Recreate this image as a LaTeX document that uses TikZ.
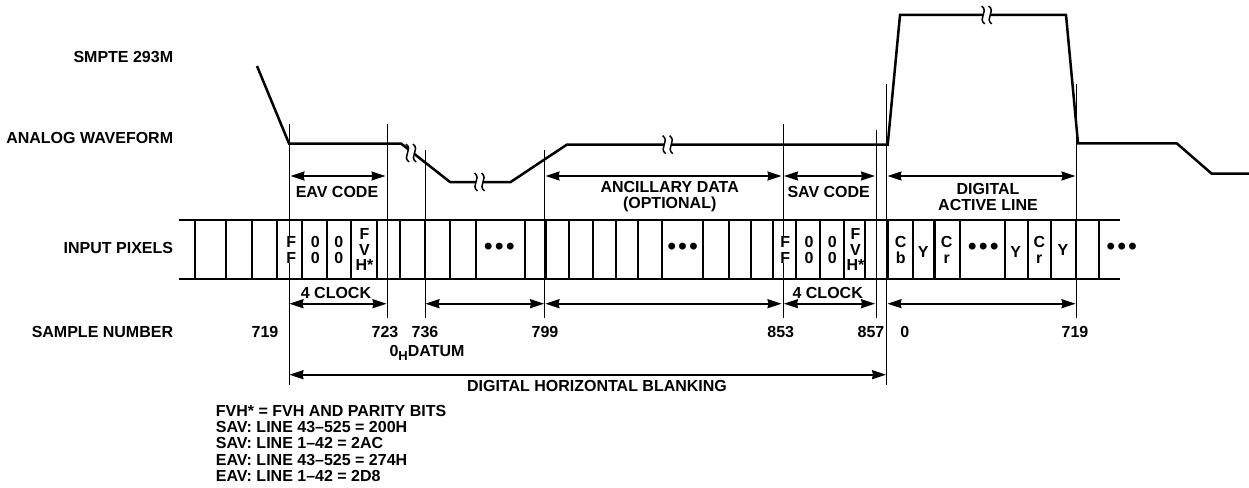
\documentclass[tikz,border=0pt]{standalone}
\usepackage{fontspec}
\setmainfont{Liberation Sans}
\usetikzlibrary{arrows.meta}

\begin{document}
\begin{tikzpicture}[x=1pt,y=-1pt,>={Stealth[length=14pt,width=9pt,inset=1pt]},
    txt/.style={font=\fontsize{16}{16.3}\selectfont\bfseries,inner sep=0pt,align=center},
    cell/.style={font=\fontsize{16}{15.4}\selectfont\bfseries,inner sep=0pt,align=center},
    dots/.style={font=\fontsize{24}{24}\selectfont\bfseries,inner sep=0pt},
    wave/.style={line width=2.5pt,line join=miter},
    tick/.style={line width=2.3pt},
    guide/.style={line width=1pt},
    span/.style={<->,line width=1.7pt}]
  \useasboundingbox (0,0) rectangle (1249,487);

  % Left labels
  \node[txt,anchor=east] (lblSmpte) at (173.3,57.3) {SMPTE 293M};
  \node[txt,anchor=east] (lblWave) at (173.3,137.7) {ANALOG WAVEFORM};
  \node[txt,anchor=east] (lblPix) at (173.3,248.3) {INPUT PIXELS};
  \node[txt,anchor=east] (lblNum) at (173.3,331.7) {SAMPLE NUMBER};

  % Guide lines
  \foreach \gname/\gx/\gtop/\gbot in {g719/289/124/385, g723/387.7/124/318, g736/425/150/318,
      g799/544.7/150/318, g853/783/124/318, g857/876.3/130/318, g0/886.7/84/385, g719b/1076.3/84/318} {
    \coordinate (\gname t) at (\gx,\gtop);
    \coordinate (\gname b) at (\gx,\gbot);
    \draw[guide] (\gname t) -- (\gname b);
  }

  % Pixel strip
  \coordinate (stripTL) at (178.7,220.3);
  \coordinate (stripTR) at (1120,220.3);
  \coordinate (stripBL) at (178.7,279);
  \coordinate (stripBR) at (1120,279);
  \draw[tick] (stripTL) -- (stripTR);
  \draw[tick] (stripBL) -- (stripBR);
  \foreach \tx in {195,226.3,252.3,277,302.3,327,351,377,400,425,450.3,475.7,525.3,545.7,
      569.3,593.3,616,638.3,662.3,703.3,728.7,751.3,773.3,796,820,844,865.3,888,912.7,934.5,
      960,1005.3,1028,1051.3,1075.7,1099} {
    \draw[tick] (\tx,220.3) -- (\tx,279);
  }

  % Waveform
  \coordinate (w0) at (257,66);
  \coordinate (w1) at (289,143.5);
  \coordinate (w2) at (401,143.5);
  \coordinate (w3) at (450,182);
  \coordinate (w4) at (510.7,182);
  \coordinate (w5) at (566.7,144.7);
  \coordinate (w6) at (887.7,144.7);
  \coordinate (w7) at (900,15);
  \coordinate (w8) at (1066,15);
  \coordinate (w9) at (1078,143.3);
  \coordinate (w10) at (1176.7,143.3);
  \coordinate (w11) at (1211.7,173.7);
  \coordinate (w12) at (1249,173.7);
  \draw[wave] (w0) -- (w1) -- (w2) -- (w3) -- (w4) -- (w5) -- (w6) -- (w7) -- (w8) -- (w9) -- (w10) -- (w11) -- (w12);

  % Line breaks
  \foreach \bx/\by in {411/153, 479.5/182, 667.7/144.7, 986.7/15} {
    \begin{scope}[shift={(\bx,\by)}]
      \fill[white] (-3.5,-6) rectangle (3.5,6);
      \foreach \bs in {-3.5,3.5}
        \draw[line width=1.5pt,shift={(\bs,0)}] (-1.5,-9) .. controls (6,-3) and (-6,3) .. (1.5,9);
    \end{scope}
  }

  % Upper spans
  \coordinate (eavL) at (290.5,176);
  \coordinate (eavR) at (385.5,176);
  \coordinate (ancL) at (545.5,176);
  \coordinate (ancR) at (781.5,176);
  \coordinate (savL) at (784,176);
  \coordinate (savR) at (875,176);
  \coordinate (actL) at (887.5,176);
  \coordinate (actR) at (1075.5,176);
  \draw[span] (eavL) -- (eavR);
  \draw[span] (ancL) -- (ancR);
  \draw[span] (savL) -- (savR);
  \draw[span] (actL) -- (actR);

  % Lower spans
  \coordinate (clkAL) at (289.5,303.7);
  \coordinate (clkAR) at (386.5,303.7);
  \coordinate (datL) at (425.5,303.7);
  \coordinate (datR) at (544,303.7);
  \coordinate (gapL) at (545.5,303.7);
  \coordinate (gapR) at (781.5,303.7);
  \coordinate (clkBL) at (784,303.7);
  \coordinate (clkBR) at (875,303.7);
  \coordinate (runL) at (887.5,303.7);
  \coordinate (runR) at (1075.5,303.7);
  \coordinate (blankL) at (289.5,374.7);
  \coordinate (blankR) at (886,374.7);
  \draw[span] (clkAL) -- (clkAR);
  \draw[span] (datL) -- (datR);
  \draw[span] (gapL) -- (gapR);
  \draw[span] (clkBL) -- (clkBR);
  \draw[span] (runL) -- (runR);
  \draw[span] (blankL) -- (blankR);

  % Span labels
  \node[txt] (lblEav) at (337,192) {EAV CODE};
  \node[txt] (lblAnc) at (669.7,196.7) {ANCILLARY DATA\\(OPTIONAL)};
  \node[txt] (lblSav) at (828.7,191.7) {SAV CODE};
  \node[txt] (lblAct) at (988,196.7) {DIGITAL\\ACTIVE LINE};
  \node[txt] (lblClkA) at (336,292.7) {4 CLOCK};
  \node[txt] (lblClkB) at (827.7,292.7) {4 CLOCK};
  \node[txt] (lblBlank) at (597,385.7) {DIGITAL HORIZONTAL BLANKING};

  % Cell labels
  \newcommand{\celldots}{\textbullet\kern2.6pt\textbullet\kern2.6pt\textbullet}
  \node[cell,fill=white] (cellFa) at (291.3,250) {F\\F};
  \node[cell] (cellZa) at (315.3,250) {0\\0};
  \node[cell] (cellZb) at (338.7,250) {0\\0};
  \node[cell] (cellHa) at (364.5,249.5) {F\\V\\H*};
  \node[dots] (cellDa) at (499.3,249) {\celldots};
  \node[dots] (cellDb) at (682.7,249) {\celldots};
  \node[cell,fill=white] (cellFb) at (785.3,250) {F\\F};
  \node[cell] (cellZc) at (809,250) {0\\0};
  \node[cell] (cellZd) at (832.3,250) {0\\0};
  \node[cell] (cellHb) at (855.5,249.5) {F\\V\\H*};
  \node[cell] (cellCb) at (900.7,250) {C\\b};
  \node[cell] (cellYa) at (923.3,252.3) {Y};
  \node[cell] (cellCr) at (946.7,250) {C\\r};
  \node[dots] (cellDc) at (983.3,249) {\celldots};
  \node[cell] (cellYb) at (1015.7,252) {Y};
  \node[cell] (cellCs) at (1039.3,250) {C\\r};
  \node[cell] (cellYc) at (1063,250) {Y};
  \node[dots] (cellDd) at (1121.7,249) {\celldots};

  % Sample numbers
  \node[txt] (num719) at (265,331.7) {719};
  \node[txt] (num723) at (385,331.7) {723};
  \node[txt] (num736) at (425,331.7) {736};
  \node[txt] (num799) at (545,331.7) {799};
  \node[txt] (num853) at (780.7,331.7) {853};
  \node[txt] (num857) at (871,331.7) {857};
  \node[txt] (num0) at (904.7,331.7) {0};
  \node[txt] (num719b) at (1075,331.7) {719};
  \node[txt] (lblDatum) at (427,353) {0\raisebox{-3.5pt}{\fontsize{13}{13}\selectfont H}DATUM};

  % Notes
  \node[txt,anchor=north west,align=left] (lblNotes) at (215.7,405)
    {FVH* = FVH AND PARITY BITS\\SAV: LINE 43--525 = 200H\\SAV: LINE 1--42 = 2AC\\EAV: LINE 43--525 = 274H\\EAV: LINE 1--42 = 2D8};
\end{tikzpicture}
\end{document}
